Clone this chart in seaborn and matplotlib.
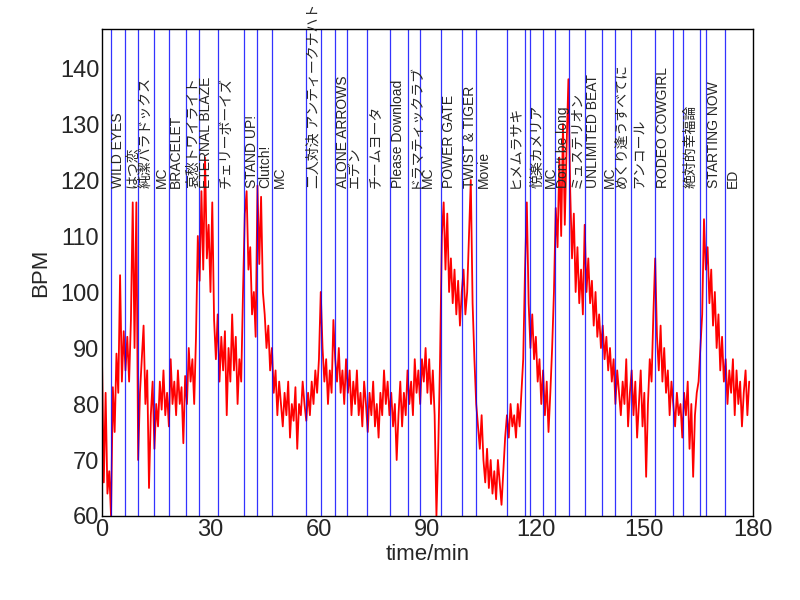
import numpy as np
import pandas as pd
import matplotlib
matplotlib.use("Agg")
import matplotlib.pyplot as plt
import seaborn as sns

# heart rate, one reading every 0.5 min
bpm = [
    88, 66, 82, 64, 68, 60, 83, 75, 89, 82, 103, 84, 93, 86, 92, 84, 95, 116, 90, 116,
    70, 82, 88, 94, 80, 86, 65, 78, 84, 72, 80, 76, 84, 79, 86, 78, 82, 76, 88, 80,
    84, 78, 86, 80, 83, 73, 85, 80, 90, 84, 88, 80, 92, 110, 102, 118, 104, 124, 106, 112,
    100, 116, 95, 88, 96, 84, 92, 86, 93, 78, 90, 84, 96, 86, 92, 80, 88, 84, 100, 114,
    118, 104, 108, 96, 100, 92, 119, 105, 117, 100, 96, 90, 94, 86, 90, 82, 86, 78, 84, 80,
    76, 82, 78, 84, 74, 80, 77, 83, 72, 80, 78, 84, 80, 77, 82, 78, 84, 80, 86, 82,
    88, 100, 90, 84, 88, 80, 86, 82, 95, 88, 84, 90, 82, 86, 80, 88, 82, 86, 78, 84,
    80, 86, 78, 82, 76, 84, 80, 75, 82, 78, 84, 76, 80, 74, 82, 78, 86, 80, 84, 78,
    82, 76, 80, 70, 78, 84, 76, 82, 78, 86, 80, 84, 78, 88, 82, 86, 80, 88, 84, 90,
    82, 88, 80, 86, 78, 60, 72, 88, 110, 116, 104, 114, 100, 106, 98, 104, 96, 102, 94, 100,
    104, 96, 100, 110, 120, 98, 88, 80, 76, 72, 78, 70, 66, 72, 65, 70, 64, 68, 63, 70,
    66, 62, 68, 74, 78, 74, 80, 76, 78, 74, 80, 76, 82, 88, 104, 116, 98, 90, 96, 88,
    92, 84, 88, 80, 86, 78, 84, 75, 82, 90, 100, 115, 108, 124, 110, 130, 112, 126, 138, 118,
    106, 114, 100, 108, 98, 104, 96, 112, 100, 106, 98, 102, 94, 100, 92, 96, 90, 94, 88, 92,
    86, 90, 84, 88, 80, 86, 82, 78, 84, 80, 88, 76, 82, 86, 78, 84, 74, 80, 86, 76,
    82, 67, 80, 88, 84, 96, 106, 92, 86, 94, 84, 90, 82, 86, 78, 84, 80, 76, 82, 78,
    80, 74, 82, 78, 84, 72, 80, 67, 78, 82, 84, 90, 96, 113, 104, 108, 98, 104, 94, 100,
    90, 96, 86, 92, 84, 88, 80, 86, 82, 88, 78, 86, 80, 84, 76, 82, 86, 78, 84,
]
minutes = np.arange(len(bpm)) * 0.5

# song start markers (min) and their labels; "" = marker without label
song_start = [2.4, 6.4, 10.0, 14.4, 18.4, 23.1, 26.7, 32.2, 39.3, 42.9, 47.0,
              56.4, 60.7, 64.4, 67.9, 73.3, 79.7, 84.5, 88.0, 93.7, 99.7, 103.4,
              112.0, 117.0, 118.4, 122.1, 125.3, 129.1, 133.6, 138.2, 141.8, 146.4,
              152.9, 157.8, 160.7, 165.3, 167.0, 172.3]
song_name = ["WILD EYES", "はつ恋", "純潔パラドックス", "MC", "BRACELET",
             "哀愁トワイライト", "ETERNAL BLAZE", "チェリーボーイズ", "STAND UP!",
             "Clutch!", "MC", "二人対決 アンティークナハト", "", "ALONE ARROWS",
             "エデン", "チームヨータ", "Please Download", "ドラマティックラブ", "MC",
             "POWER GATE", "TWIST & TIGER", "Movie", "ヒメムラサキ", "", "悦楽カメリア",
             "MC", "Don't be long", "ミュステリオン", "UNLIMITED BEAT", "MC",
             "めくり逢うすべてに", "アンコール", "RODEO COWGIRL", "", "絶対的幸福論", "",
             "STARTING NOW", "ED"]

df = pd.DataFrame({"time": minutes, "BPM": bpm})

sns.set_style("white")
plt.rcParams["font.family"] = ["Liberation Sans", "Noto Sans CJK JP", "DejaVu Sans"]

fig, ax = plt.subplots(figsize=(8, 6), dpi=100)
fig.subplots_adjust(left=0.1275, right=0.941, bottom=0.14, top=0.952)

sns.lineplot(data=df, x="time", y="BPM", color="red", lw=1.3, ax=ax)

for t, name in zip(song_start, song_name):
    ax.axvline(t, color="blue", lw=0.9, alpha=0.8)
    if name:
        ax.text(t + 0.2, 118.6, name, rotation=90, ha="left", va="bottom",
                fontsize=10, clip_on=False)

ax.set_xlim(0, 180)
ax.set_ylim(60, 147)
ax.set_xticks(range(0, 181, 30))
ax.set_yticks(range(60, 141, 10))
ax.tick_params(direction="in", labelsize=17, length=5, width=1, pad=2)
ax.set_xlabel("time/min", fontsize=16, labelpad=2)
ax.set_ylabel("BPM", fontsize=16, labelpad=6)
for s in ax.spines.values():
    s.set_color("black")
    s.set_linewidth(1)

plt.savefig("out.png")
